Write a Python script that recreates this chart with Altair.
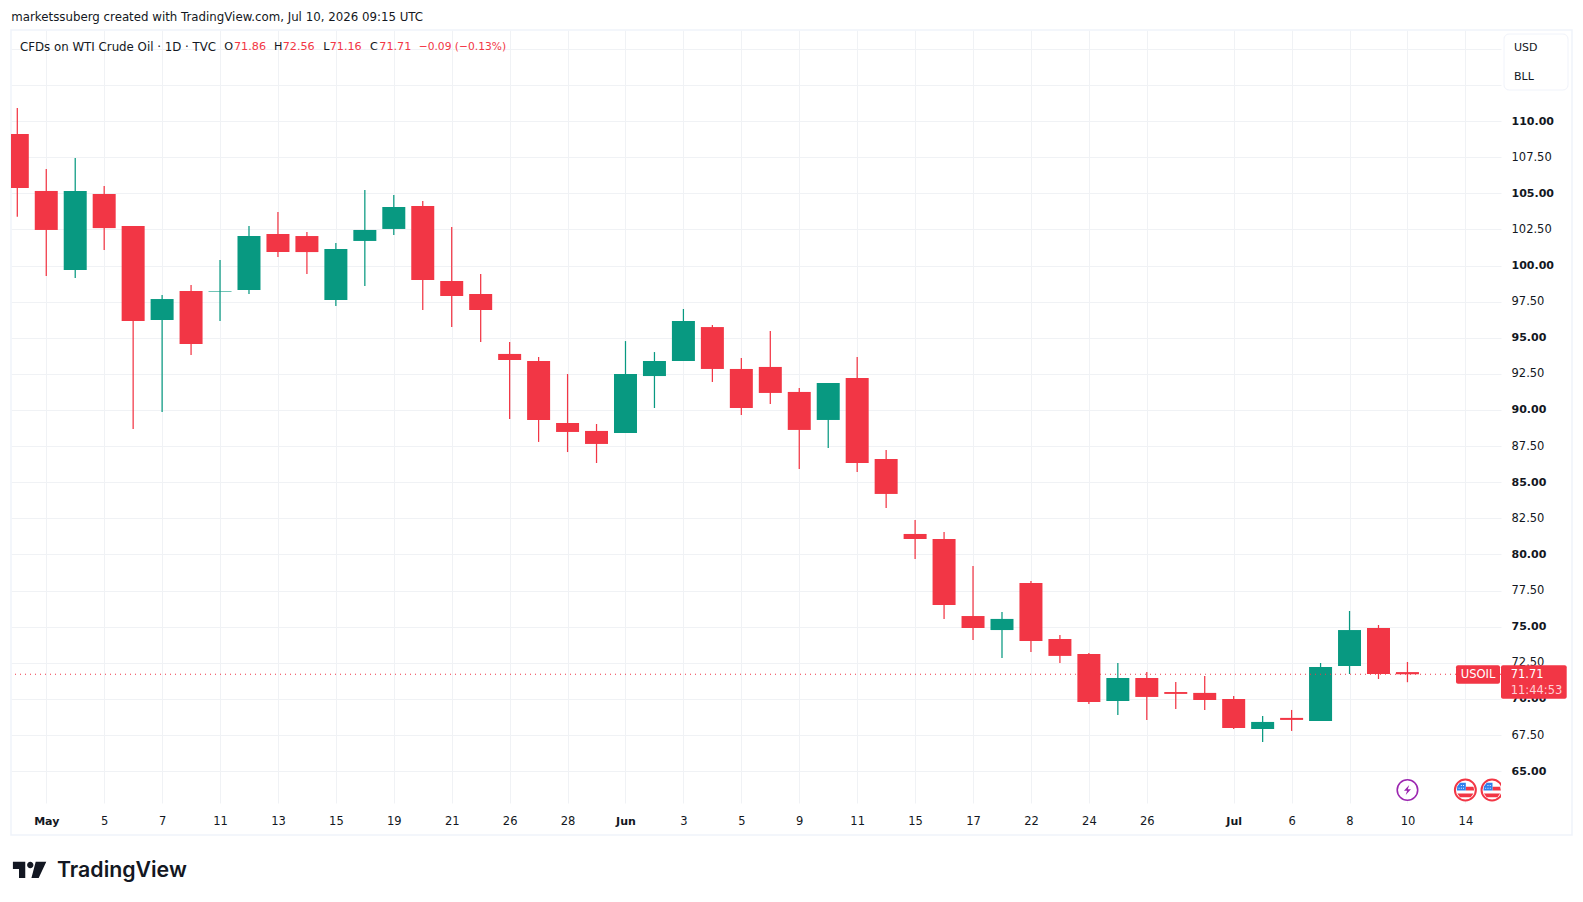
import altair as alt
import pandas as pd

# ---- data ----
bar_index = list(range(49))
opens = [109.10,105.16,99.69,104.95,102.73,96.23,98.24,98.17,98.30,102.18,102.04,97.61,101.70,102.53,104.12,98.93,
         98.03,93.88,93.39,89.10,88.55,88.41,92.35,93.39,95.74,92.84,92.98,91.25,89.31,92.21,86.61,81.42,
         81.07,75.74,74.77,78.03,74.15,73.11,69.86,71.45,70.48,70.42,70.00,67.92,68.69,68.48,72.28,74.91,71.86]
highs = [110.90,106.68,107.44,105.50,102.73,97.96,98.65,100.38,102.73,103.70,102.32,101.56,105.22,104.88,104.46,102.66,
         99.41,94.71,93.67,92.49,89.03,94.77,94.01,96.99,95.88,93.60,95.47,91.52,91.87,93.67,87.23,82.39,
         81.56,79.20,76.02,78.17,74.43,73.18,72.49,71.87,71.18,71.59,70.21,68.82,69.24,72.49,76.09,75.12,72.56]
lows = [103.38,99.27,99.13,101.07,88.68,89.86,93.81,96.16,98.03,100.59,99.41,97.20,98.58,102.11,96.92,95.74,
        94.71,89.38,87.79,87.09,86.33,88.41,90.14,93.39,91.94,89.65,90.42,85.92,87.37,85.71,83.22,79.69,
        75.54,74.08,72.84,73.25,72.49,69.65,68.89,68.55,69.31,69.24,67.92,67.02,67.79,68.48,71.73,71.38,71.16]
closes = [105.36,102.46,105.16,102.59,96.16,97.68,94.57,98.21,102.04,100.93,100.93,101.14,102.46,104.05,99.00,97.89,
          96.92,93.46,89.31,88.48,87.65,92.49,93.39,96.16,92.84,90.14,91.18,88.62,91.87,86.33,84.19,81.07,
          76.51,74.91,75.54,74.01,72.98,69.79,71.45,70.14,70.35,69.93,67.99,68.41,68.55,72.21,74.77,71.73,71.71]

x_tick_index = [1,3,5,7,9,11,13,15,17,19,21,23,25,27,29,31,33,35,37,39,42,44,46,48,50]
x_tick_text = ["May","5","7","11","13","15","19","21","26","28","Jun","3","5","9","11","15","17","22","24","26","Jul","6","8","10","14"]
month_ticks = [1, 21, 42]
y_grid_values = [65,67.5,70,72.5,75,77.5,80,82.5,85,87.5,90,92.5,95,97.5,100,102.5,105,107.5,110,112.5,115]
last_price = 71.71
bolt_events = [48]
flag_events = [50, 50.92]

RED, GREEN, INK, GRID = "#f23645", "#089981", "#131722", "#f0f2f5"
FONT = "DejaVu Sans"
L, T = 11, 30            # page position of the plot area's corner
W, H = 1490, 773

df = pd.DataFrame({"i": bar_index, "o": opens, "h": highs, "l": lows, "c": closes})
df["dir"] = ["up" if c >= o else "down" for o, c in zip(opens, closes)]

x_scale = alt.Scale(domain=[-0.2175, 51.23], nice=False, zero=False, padding=0)
y_scale = alt.Scale(domain=[62.80, 116.30], nice=False, zero=False, padding=0)
color = alt.Color("dir:N", scale=alt.Scale(domain=["up", "down"], range=[GREEN, RED]), legend=None)

label_map = "{" + ",".join(f"'{i}':'{t}'" for i, t in zip(x_tick_index, x_tick_text)) + "}"
x_axis = alt.Axis(values=x_tick_index, title=None, grid=True, gridColor=GRID, gridWidth=1, domain=False, ticks=False,
                  labelExpr=f"{label_map}[datum.value]", labelFont=FONT, labelColor=INK,
                  labelFontSize=alt.ExprRef(f"indexof({month_ticks}, datum.value) >= 0 ? 11 : 11.5"),
                  labelPadding=12, labelAngle=0, labelFlush=False, labelOverlap=False, labelBound=False,
                  labelFontWeight=alt.ExprRef(f"indexof({month_ticks}, datum.value) >= 0 ? 600 : 400"))
y_axis = alt.Axis(values=y_grid_values, title=None, orient="right", grid=True, gridColor=GRID, gridWidth=1, domain=False,
                  ticks=False, labelExpr="datum.value > 110 ? '' : format(datum.value, '.2f')", labelFont=FONT,
                  labelFontSize=alt.ExprRef("datum.value % 5 == 0 ? 11 : 11.5"), labelColor=INK, labelPadding=10,
                  labelAlign="left", labelOffset=0, labelOverlap=False, labelBound=False, labelFlush=False,
                  labelFontWeight=alt.ExprRef("datum.value % 5 == 0 ? 600 : 400"))

base = alt.Chart(df)
wicks = base.mark_rule(strokeWidth=1.25, clip=True).encode(
    x=alt.X("i:Q", scale=x_scale, axis=x_axis),
    y=alt.Y("l:Q", scale=y_scale, axis=y_axis),
    y2="h:Q", color=color)
bodies = base.mark_bar(size=23, clip=True).encode(
    x=alt.X("i:Q", scale=x_scale, axis=x_axis), y=alt.Y("o:Q", scale=y_scale, axis=y_axis), y2="c:Q", color=color)
price_line = alt.Chart(pd.DataFrame({"p": [last_price]})).mark_rule(color=RED, strokeWidth=1, strokeDash=[1, 4]).encode(
    y=alt.Y("p:Q", scale=y_scale, axis=y_axis))

dummy = pd.DataFrame({"a": [0]})


def text(s, px, py, col=INK, size=11.8, weight=400, align="left", font=FONT, opacity=1):
    return alt.Chart(dummy).mark_text(text=s, color=col, fontSize=size, fontWeight=weight, align=align,
                                      baseline="middle", font=font, opacity=opacity).encode(
        x=alt.value(px - L), y=alt.value(py - T))


def box(x0, x1, y0, y1, fill=None, stroke=None, radius=0, sw=1):
    kw = {}
    if fill:
        kw["fill"] = fill
    else:
        kw["fillOpacity"] = 0
        kw["fill"] = "white"
    if stroke:
        kw["stroke"] = stroke
        kw["strokeWidth"] = sw
    return alt.Chart(dummy).mark_rect(cornerRadius=radius, **kw).encode(
        x=alt.value(x0 - L), x2=alt.value(x1 - L), y=alt.value(y0 - T), y2=alt.value(y1 - T))


def icon(events, shape, size, **kw):
    return alt.Chart(pd.DataFrame({"i": events})).mark_point(shape=shape, size=size, clip=True, opacity=1, **kw).encode(
        x=alt.X("i:Q", scale=x_scale, axis=x_axis), y=alt.value(790 - T))


BOLT = "M0.25 -0.7 L-0.5 0.1 L-0.05 0.1 L-0.25 0.7 L0.5 -0.1 L0.05 -0.1 Z"
CANTON = "M-0.6 -0.8 L0.05 -0.8 L0.05 0.05 L-0.95 0.05 L-0.9 -0.4 Z"
CANTON_DOTS = ("M-0.5 -0.55 h0.1 v0.1 h-0.1 Z M-0.25 -0.55 h0.1 v0.1 h-0.1 Z "
               "M-0.5 -0.25 h0.1 v0.1 h-0.1 Z M-0.25 -0.25 h0.1 v0.1 h-0.1 Z "
               "M-0.75 -0.25 h0.1 v0.1 h-0.1 Z")
STRIPES = "M0.05 -0.35 L0.9 -0.35 L0.98 0.05 L0.05 0.05 Z M-0.9 0.4 L0.9 0.4 L0.6 0.8 L-0.6 0.8 Z"
LOGO = ("M-1 -0.5 L-0.26 -0.5 L-0.26 0.48 L-0.635 0.48 L-0.635 -0.06 L-1 -0.06 Z "
        "M0.04 -0.49 A0.19 0.19 0 1 1 0.04 -0.11 A0.19 0.19 0 1 1 0.04 -0.49 Z "
        "M0.365 -0.5 L1 -0.5 L0.545 0.48 L0.11 0.48 Z")

layers = [
    box(11, 1572, 30, 835, stroke="#f0f3fa", sw=1.5),
    wicks, bodies, price_line,
    icon(bolt_events, "circle", 420, filled=True, fill="white", stroke="#9c27b0", strokeWidth=1.6),
    icon(bolt_events, BOLT, 196, filled=True, fill="#9c27b0", strokeWidth=0),
    icon(flag_events, "circle", 440, filled=True, fill="white", stroke=RED, strokeWidth=2),
    icon(flag_events, STRIPES, 324, filled=True, fill=RED, strokeWidth=0),
    icon(flag_events, CANTON, 324, filled=True, fill="#2f80ed", strokeWidth=0),
    icon(flag_events, CANTON_DOTS, 324, filled=True, fill="white", strokeWidth=0),
    box(1456, 1500, 665.3, 683.7, fill=RED, radius=2),
    box(1501, 1566.7, 665.3, 698.7, fill=RED, radius=2),
    text("USOIL", 1478, 675, "white", 11.5, align="center"),
    text(f"{last_price:.2f}", 1510.7, 675, "white", 11.5, 400),
    text("11:44:53", 1510.7, 690.5, "#ffd0d5", 11.5),
    box(1504, 1568, 34, 90, fill="white", stroke="#f0f3fa", radius=5),
    text("USD", 1514, 48.3, INK, 11),
    text("BLL", 1514, 77.2, INK, 11),
    text("marketssuberg created with TradingView.com, Jul 10, 2026 09:15 UTC", 11.3, 17),
    text("CFDs on WTI Crude Oil · 1D · TVC", 20, 47),
    text("O", 224.3, 47, INK, 11.2), text("71.86", 234, 47, RED, 11.2),
    text("H", 274, 47, INK, 11.2), text("72.56", 282.7, 47, RED, 11.2),
    text("L", 323.3, 47, INK, 11.2), text("71.16", 329.7, 47, RED, 11.2),
    text("C", 370, 47, INK, 11.2), text("71.71", 379.3, 47, RED, 11.2),
    text("−0.09 (−0.13%)", 418.7, 47, RED, 10.7),
    alt.Chart(dummy).mark_point(shape=LOGO, size=1115, filled=True, fill="#131722", opacity=1, strokeWidth=0).encode(
        x=alt.value(29.6 - L), y=alt.value(870 - T)),
    text("TradingView", 57, 871, "#131722", 21.3, 600, font="Inter"),
]

chart = alt.layer(*layers).resolve_scale(color="independent").properties(
    width=W, height=H,
    padding={"left": L - 8, "top": T - 8, "right": 1583 - 16 - W - (L - 8), "bottom": 902 - 16 - H - (T - 8)},
    autosize=alt.AutoSizeParams(type="none"),
    background="white",
).configure_view(stroke=None)

chart.save("out.html", embed_options={"renderer": "svg", "actions": False})
